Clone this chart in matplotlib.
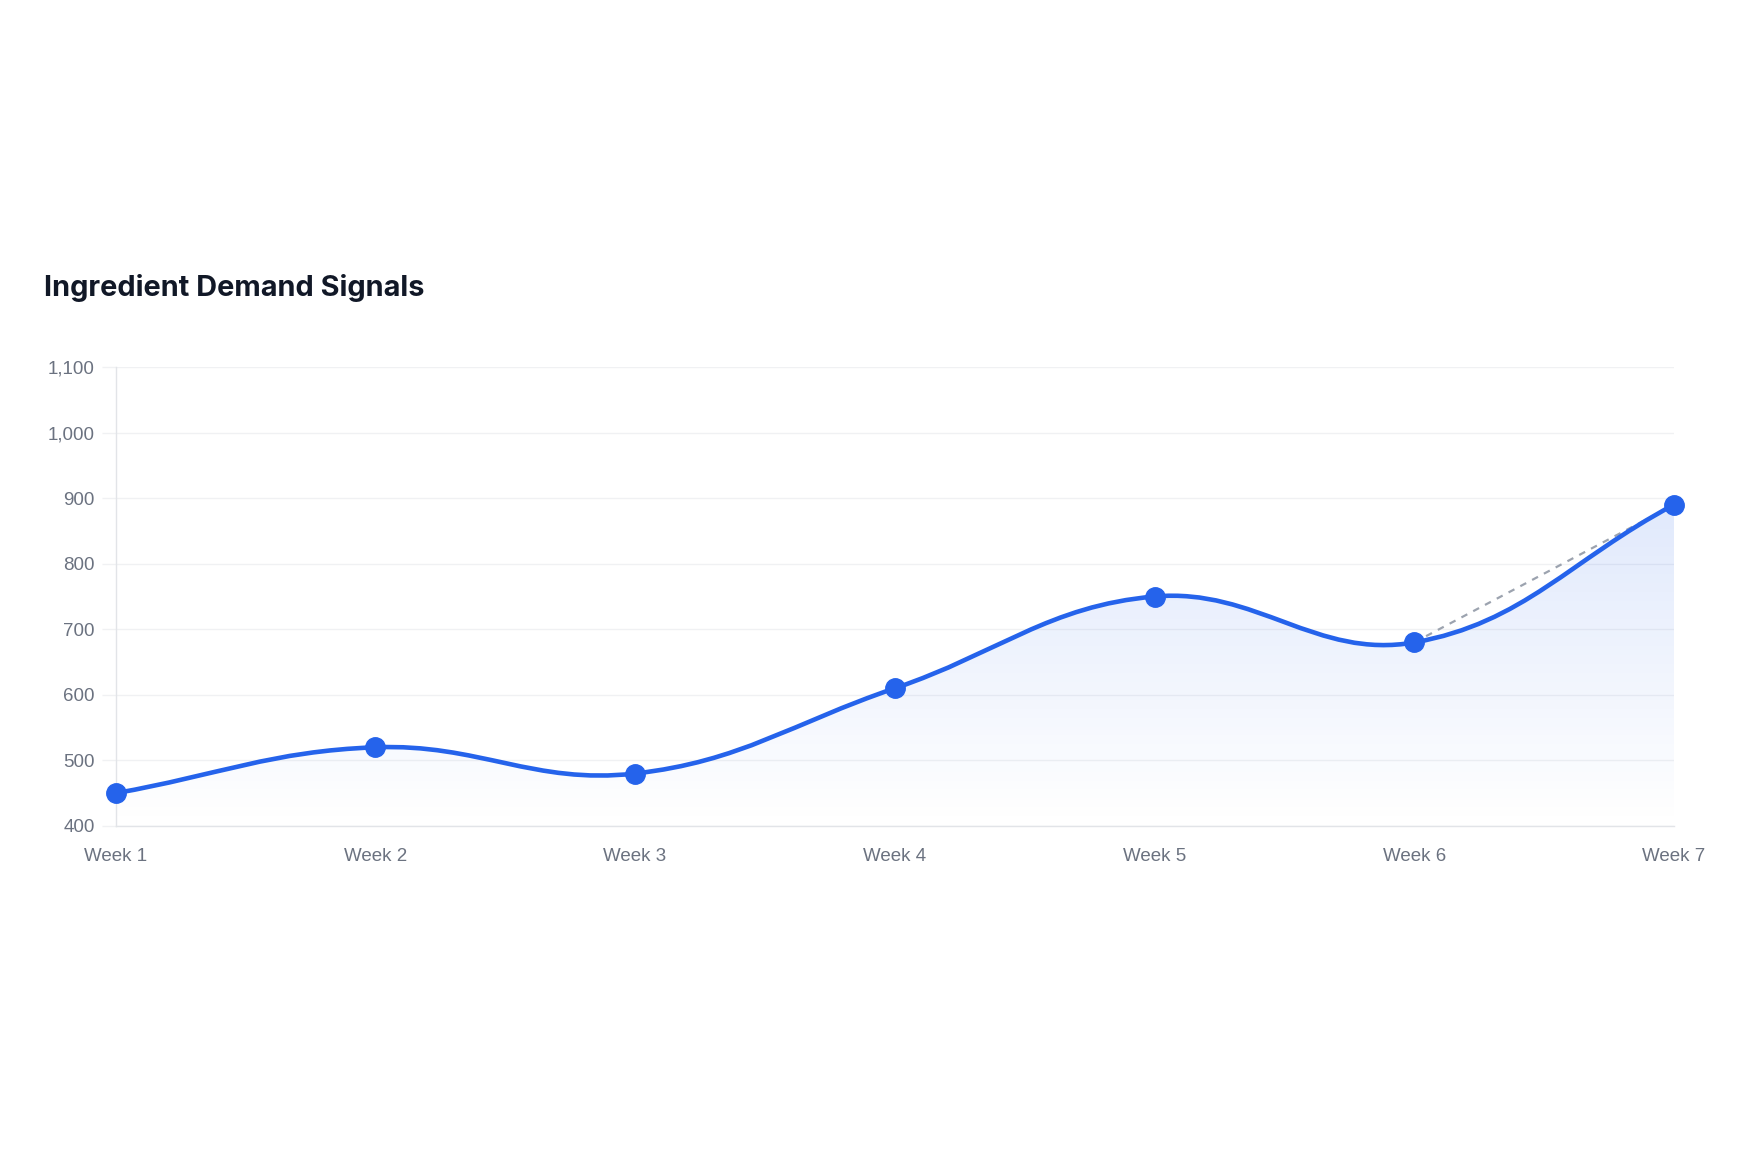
import numpy as np
import matplotlib.pyplot as plt
from matplotlib.path import Path
from matplotlib.patches import PathPatch
from matplotlib.colors import LinearSegmentedColormap
from matplotlib.ticker import FuncFormatter

# data
weeks = ["Week 1", "Week 2", "Week 3", "Week 4", "Week 5", "Week 6", "Week 7"]
demand = [450, 520, 480, 610, 750, 680, 890]
trend_x = [5, 6]          # dashed trend segment: Week 6 -> Week 7
trend_y = [680, 890]

BLUE = "#2563eb"
GRID = "#f0f1f3"
TICK = "#6b7280"

plt.rcParams['font.family'] = ['Liberation Sans', 'DejaVu Sans']

fig = plt.figure(figsize=(17.59, 11.63), dpi=100)
ax = fig.add_axes([0.0657, 0.2898, 0.886, 0.3946])
ax.set_xlim(0, len(weeks) - 1)
ax.set_ylim(400, 1100)


def spline_path(ax, xs, ys, tension=0.4):
    # Chart.js style cubic bezier through the points (control points in pixel space)
    pts = ax.transData.transform(np.column_stack([xs, ys]))
    n = len(pts)
    verts = [pts[0]]
    codes = [Path.MOVETO]
    ctrl = []
    for i in range(n):
        prev = pts[max(i - 1, 0)]
        cur = pts[i]
        nxt = pts[min(i + 1, n - 1)]
        d01 = np.hypot(*(cur - prev))
        d12 = np.hypot(*(nxt - cur))
        tot = d01 + d12
        s01 = d01 / tot if tot else 0
        s12 = d12 / tot if tot else 0
        cp_prev = cur - tension * s01 * (nxt - prev)
        cp_next = cur + tension * s12 * (nxt - prev)
        ctrl.append((cp_prev, cp_next))
    for i in range(1, n):
        verts += [ctrl[i - 1][1], ctrl[i][0], pts[i]]
        codes += [Path.CURVE4] * 3
    verts = ax.transData.inverted().transform(np.array(verts))
    return verts, codes


verts, codes = spline_path(ax, np.arange(len(demand)), demand)

# gradient fill under the curve
fill_verts = np.vstack([verts, [[len(demand) - 1, 400], [0, 400], verts[0]]])
fill_codes = codes + [Path.LINETO, Path.LINETO, Path.CLOSEPOLY]
clip = PathPatch(Path(fill_verts, fill_codes), facecolor="none", edgecolor="none")
ax.add_patch(clip)
cmap = LinearSegmentedColormap.from_list("fade", [(0.145, 0.388, 0.922, 0.0), (0.145, 0.388, 0.922, 0.14)])
grad = np.linspace(0, 1, 256).reshape(-1, 1)
img = ax.imshow(grad, extent=[0, len(demand) - 1, 400, max(demand)], origin="lower",
                aspect="auto", cmap=cmap, zorder=1)
img.set_clip_path(clip)

# dashed trend
ax.plot(trend_x, trend_y, color="#9ca3af", lw=1.6, ls=(0, (3, 3)), zorder=2)

# main line + markers
ax.add_patch(PathPatch(Path(verts, codes), facecolor="none", edgecolor=BLUE, lw=3.3,
                       capstyle="round", joinstyle="round", zorder=3))
ax.plot(range(len(demand)), demand, ls="none", marker="o", ms=14, color=BLUE,
        clip_on=False, zorder=4)

ax.set_xticks(range(len(weeks)))
ax.set_xticklabels(weeks)
ax.set_yticks(range(400, 1101, 100))
ax.yaxis.set_major_formatter(FuncFormatter(lambda v, p: f"{int(v):,}"))
ax.tick_params(axis="x", length=0, pad=16, labelsize=13.5, labelcolor=TICK)
ax.tick_params(axis="y", length=10, color=GRID, width=1, pad=5, labelsize=13.5, labelcolor=TICK)
ax.grid(axis="y", color=GRID, lw=1)
ax.grid(axis="x", visible=False)
ax.set_axisbelow(True)
for side in ["top", "right"]:
    ax.spines[side].set_visible(False)
for side in ["left", "bottom"]:
    ax.spines[side].set_color("#e2e4e8")
    ax.spines[side].set_linewidth(1)

fig.text(0.025, 0.752, "Ingredient Demand Signals", fontsize=20.8, fontweight="bold",
         color="#111827", family=["Inter", "DejaVu Sans"], va="center")

fig.savefig("out.png", dpi=100, facecolor="white")
